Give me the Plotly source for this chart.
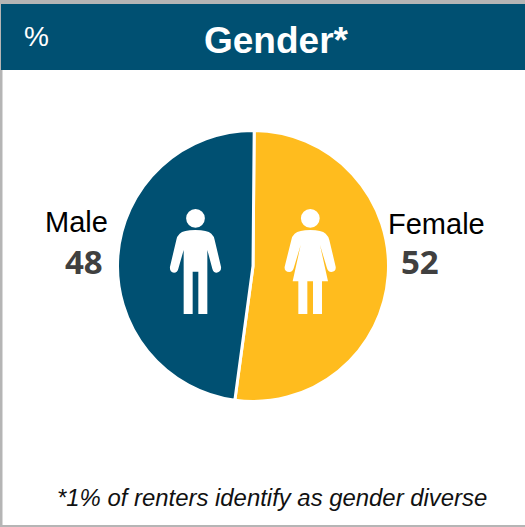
import plotly.graph_objects as go

W, H = 525, 527
labels = ["Female", "Male"]
values = [52, 48]
colors = ["#FFBC1E", "#005072"]
title = "Gender*"
unit = "%"
footnote = "*1% of renters identify as gender diverse"


def px(x):
    return x / W


def py(y):
    return 1 - y / H


def icon(points, ox=150, oy=190):
    parts = []
    for cmd, coords in points:
        pts = [f"{px(ox + coords[i] / 3):.5f},{py(oy + coords[i + 1] / 3):.5f}" for i in range(0, len(coords), 2)]
        parts.append(cmd + " ".join(pts))
    return " ".join(parts) + " Z"


man = [("M", (136, 120)), ("Q", (172, 120, 184, 131)), ("Q", (192, 138, 194, 150)),
       ("L", (213, 230)), ("Q", (215, 246, 200, 248)), ("Q", (190, 248, 187, 236)),
       ("L", (172, 180)), ("L", (172, 372)), ("L", (145, 372)), ("L", (145, 245)),
       ("L", (128, 245)), ("L", (128, 372)), ("L", (101, 372)), ("L", (101, 180)),
       ("L", (85, 236)), ("Q", (82, 248, 72, 248)), ("Q", (58, 246, 60, 230)),
       ("L", (79, 150)), ("Q", (81, 138, 89, 131)), ("Q", (100, 120, 136, 120))]
woman = [("M", (481, 120)), ("Q", (515, 120, 527, 131)), ("Q", (535, 138, 538, 150)),
         ("L", (557, 230)), ("Q", (559, 245, 544, 246)), ("Q", (534, 246, 531, 235)),
         ("L", (510, 165)), ("L", (534, 274)), ("L", (516, 274)), ("L", (516, 372)),
         ("L", (489, 372)), ("L", (489, 274)), ("L", (472, 274)), ("L", (472, 372)),
         ("L", (445, 372)), ("L", (445, 274)), ("L", (428, 274)), ("L", (452, 165)),
         ("L", (431, 235)), ("Q", (428, 246, 418, 246)), ("Q", (402, 245, 404, 230)),
         ("L", (424, 150)), ("Q", (426, 138, 434, 131)), ("Q", (447, 120, 481, 120))]


def rect(x0, y0, x1, y1, color):
    return dict(type="rect", xref="paper", yref="paper", x0=px(x0), x1=px(x1), y0=py(y0), y1=py(y1),
                fillcolor=color, line_width=0, layer="below")


def head(cx, cy, r):
    return dict(type="circle", xref="paper", yref="paper", x0=px(cx - r), x1=px(cx + r),
                y0=py(cy + r), y1=py(cy - r), fillcolor="white", line_width=0)


def text(x, y, s, size, color="black", family="Arial, Liberation Sans", weight="normal", style="normal"):
    return dict(xref="paper", yref="paper", x=px(x), y=py(y), text=s,
                showarrow=False, xanchor="center", yanchor="middle",
                font=dict(size=size, color=color, family=family, weight=weight, style=style))


fig = go.Figure(go.Pie(
    labels=labels, values=values, sort=False, direction="clockwise", rotation=0.5,
    marker=dict(colors=colors, line=dict(color="white", width=3)),
    textinfo="none", hoverinfo="label+value", showlegend=False,
    domain=dict(x=[px(117.5), px(388.5)], y=[py(401.5), py(130.5)]),
))

shapes = [
    rect(0, 0, 525, 4, "#B5B5B5"),
    rect(0, 0, 2.5, 527, "#B5B5B5"),
    rect(0, 525, 525, 527, "#B5B5B5"),
    rect(1, 4, 525, 70, colors[1]),
    dict(type="path", xref="paper", yref="paper", path=icon(man), fillcolor="white", line_width=0),
    dict(type="path", xref="paper", yref="paper", path=icon(woman), fillcolor="white", line_width=0),
    head(195.5, 218.3, 9.4),
    head(310.3, 218.3, 9.4),
]

annotations = [
    text(36.5, 36, unit, 28, "white"),
    text(276, 40, title, 37, "white", weight="bold"),
    text(76.5, 222, labels[1], 29),
    text(436.5, 224, labels[0], 29),
    text(83.5, 262, str(values[1]), 33, "#404040", "Open Sans", weight="bold"),
    text(419.5, 262, str(values[0]), 33, "#404040", "Open Sans", weight="bold"),
    text(271.5, 497, footnote, 23.9, "#111111", style="italic"),
]

fig.update_layout(width=W, height=H, margin=dict(l=0, r=0, t=0, b=0), paper_bgcolor="white",
                  shapes=shapes, annotations=annotations)
fig.write_html("out.html", config=dict(displayModeBar=False),
               post_script="document.body.style.margin='0';document.body.style.overflow='hidden';")
